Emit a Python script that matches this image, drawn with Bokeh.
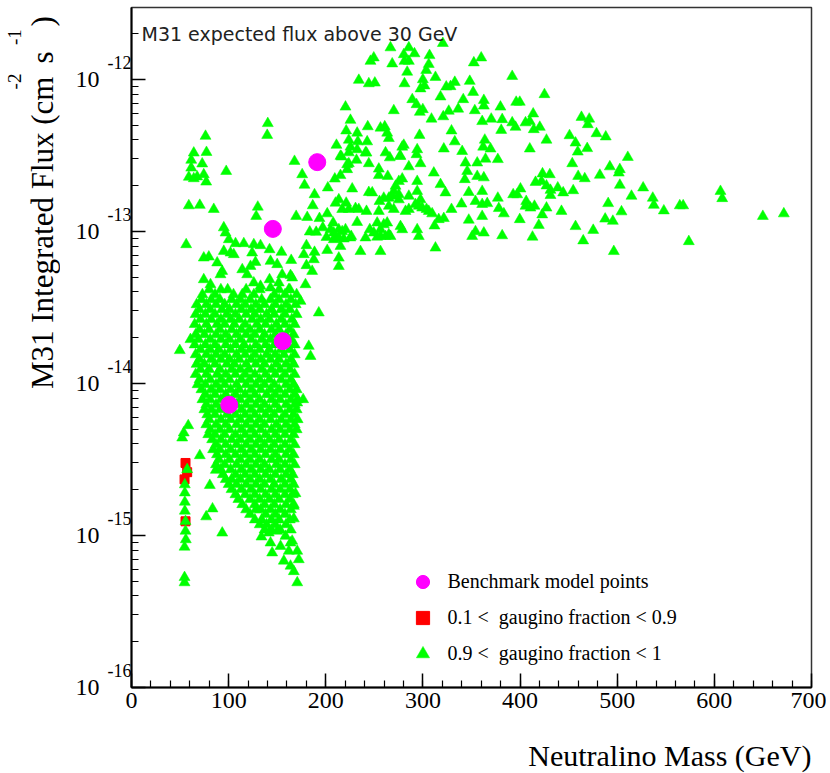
from math import pi
from bokeh.plotting import figure
from bokeh.layouts import row, column
from bokeh.models import (Label, FixedTicker, Legend, LegendItem, LogAxis, Range1d,
                          CustomJSTickFormatter)
from bokeh.embed import file_html
from bokeh.resources import INLINE

SERIF = "Liberation Serif"

# ---------------- data ----------------
x_ticks = [0, 100, 200, 300, 400, 500, 600, 700]
x_minor_ticks = list(range(0, 701, 20))
y_ticks = [1e-16, 1e-15, 1e-14, 1e-13, 1e-12]
y_tick_base = "10"
y_tick_exponents = ["-16", "-15", "-14", "-13", "-12"]
y_top = 2.977e-12

x_title = "Neutralino Mass (GeV)"
y_title_parts = ["M31 Integrated Flux (cm", "-2", "s", "-1", ")"]
caption = "M31 expected flux above 30 GeV"
legend_labels = ["Benchmark model points",
                 "0.1 <  gaugino fraction < 0.9",
                 "0.9 <  gaugino fraction < 1"]

# Benchmark model points (magenta)
benchmark_mass = [100.6, 145.5, 155.7, 191.2]
benchmark_flux = [7.24e-15, 1.04e-13, 1.90e-14, 2.86e-13]

# 0.1 < gaugino fraction < 0.9 (red squares)
mixed_mass = [55.6, 57.3, 54.6, 55.6]
mixed_flux = [3.0e-15, 2.61e-15, 2.34e-15, 1.24e-15]

# 0.9 < gaugino fraction < 1 (green triangles), read region by region
low_mass_sparse = [
    (76.2, 4.24e-13), (140.3, 5.14e-13), (139.7, 4.30e-13), (64.1, 3.29e-13), (77.2, 3.32e-13),
    (61.5, 2.95e-13), (72.8, 2.79e-13), (61.5, 2.62e-13), (97.5, 2.49e-13), (74.4, 2.37e-13),
    (59.0, 2.28e-13), (64.1, 2.23e-13), (76.9, 2.12e-13), (67.6, 2.29e-13), (59.0, 1.48e-13),
    (70.3, 1.49e-13), (84.7, 1.40e-13), (130.0, 1.45e-13), (128.4, 1.26e-13), (167.8, 2.90e-13),
    (175.7, 2.37e-13), (178.1, 2.02e-13), (188.4, 1.75e-13), (202.1, 1.94e-13), (186.6, 1.48e-13),
    (169.5, 1.26e-13), (180.9, 1.24e-13), (193.5, 1.22e-13), (201.5, 1.31e-13), (95.0, 1.06e-13),
    (96.8, 9.8e-14), (100.2, 8.86e-14), (107.1, 8.34e-14), (115.6, 8.34e-14), (56.3, 8.21e-14),
    (125.9, 8.21e-14), (132.8, 8.09e-14), (142.1, 7.61e-14), (154.4, 7.31e-14), (150.0, 6.07e-14),
    (143.1, 6.38e-14), (164.4, 6.47e-14), (180.1, 8.09e-14), (183.5, 9.95e-14), (190.1, 9.9e-14),
    (196.9, 1.06e-13), (200.7, 9.17e-14), (177.4, 7.06e-14), (188.4, 7.31e-14), (201.5, 7.53e-14),
    (180.1, 5.98e-14), (187.7, 6.54e-14), (74.4, 6.71e-14), (79.6, 6.81e-14), (88.2, 6.23e-14),
    (95.0, 7.42e-14), (101.9, 7.24e-14), (105.3, 7.06e-14), (124.2, 7.24e-14), (127.6, 6.28e-14),
    (122.5, 5.91e-14), (163.7, 5.14e-14), (186.0, 5.48e-14), (179.1, 4.48e-14), (174.0, 3.48e-14),
    (192.8, 2.92e-14), (74.4, 4.83e-14), (81.3, 4.48e-14), (91.6, 5.21e-14), (114.0, 5.62e-14),
    (119.1, 5.21e-14), (125.9, 4.60e-14), (142.1, 4.83e-14), (151.6, 4.60e-14), (161.9, 4.15e-14),
    (132.8, 4.37e-14), (143.1, 4.26e-14), (93.4, 5.48e-14), (155.1, 5.21e-14), (165.4, 4.96e-14),
]

mid_mass_arm = [
    (266.6, 1.62e-12), (285.5, 1.62e-12), (280.3, 1.46e-12), (291.3, 1.48e-12), (281.0, 1.32e-12),
    (285.5, 1.32e-12), (306.8, 1.44e-12), (320.5, 1.73e-12), (246.0, 1.32e-12), (249.4, 1.39e-12),
    (268.4, 1.27e-12), (306.0, 1.26e-12), (303.4, 1.15e-12), (283.8, 1.12e-12), (352.4, 1.29e-12),
    (234.0, 9.9e-13), (244.3, 9.4e-13), (250.5, 9.5e-13), (281.0, 9.4e-13), (299.9, 1.0e-12),
    (312.9, 1.035e-12), (297.5, 8.7e-13), (301.6, 9.1e-13), (324.0, 8.95e-13), (328.4, 9.0e-13),
    (332.8, 9.6e-13), (348.2, 9.75e-13), (351.7, 8.25e-13), (318.1, 7.7e-13), (341.5, 7.39e-13),
    (289.0, 7.39e-13), (293.4, 6.85e-13), (299.9, 6.35e-13), (296.8, 6.1e-13), (270.0, 6.25e-13),
    (308.8, 5.5e-13), (320.9, 5.7e-13), (326.6, 6.2e-13), (336.3, 6.4e-13), (353.4, 6.25e-13),
    (220.3, 6.6e-13), (225.4, 5.4e-13), (243.2, 4.9e-13), (256.3, 4.8e-13), (260.7, 4.9e-13),
    (263.2, 4.45e-13), (264.9, 4.1e-13), (296.5, 4.3e-13), (329.4, 4.6e-13), (332.8, 3.9e-13),
    (221.0, 4.6e-13), (223.7, 4.0e-13), (232.3, 4.45e-13), (233.0, 3.9e-13), (242.6, 3.9e-13),
    (211.0, 3.7e-13), (216.2, 3.1e-13), (223.7, 3.3e-13), (232.3, 3.46e-13), (225.4, 3.6e-13),
    (240.9, 3.3e-13), (244.3, 2.8e-13), (231.6, 2.95e-13), (223.7, 2.8e-13), (222.0, 2.56e-13),
    (261.5, 3.3e-13), (265.9, 3.06e-13), (278.7, 3.6e-13), (280.3, 3.7e-13), (276.2, 3.13e-13),
    (294.1, 3.46e-13), (293.4, 3.21e-13), (297.5, 2.8e-13), (321.5, 3.5e-13), (340.4, 3.37e-13),
    (343.8, 2.83e-13), (355.9, 2.83e-13), (209.3, 2.22e-13), (215.1, 2.34e-13), (227.2, 1.91e-13),
    (254.6, 2.58e-13), (254.6, 2.34e-13), (263.8, 2.31e-13), (285.5, 2.67e-13), (294.1, 2.14e-13),
    (311.2, 2.43e-13), (275.2, 2.14e-13), (278.7, 2.22e-13), (271.8, 1.99e-13), (270.0, 1.84e-13),
    (275.2, 1.75e-13), (294.1, 1.84e-13), (318.1, 2.04e-13), (323.2, 1.8e-13), (244.3, 1.81e-13),
    (247.8, 1.8e-13), (255.3, 1.58e-13), (259.7, 1.66e-13), (264.9, 1.66e-13), (268.4, 1.71e-13),
    (275.2, 1.62e-13), (285.5, 1.71e-13), (292.3, 1.51e-13), (297.5, 1.62e-13), (299.2, 1.43e-13),
    (306.0, 1.36e-13), (309.5, 1.31e-13), (316.3, 1.2e-13), (321.5, 1.22e-13), (329.4, 1.4e-13),
    (339.7, 1.52e-13), (347.2, 1.81e-13), (354.1, 1.58e-13), (210.0, 1.54e-13), (213.4, 1.62e-13),
    (221.0, 1.54e-13), (223.7, 1.4e-13), (216.9, 1.4e-13), (230.6, 1.42e-13), (234.0, 1.4e-13),
    (241.9, 1.36e-13), (254.6, 1.36e-13), (264.9, 1.47e-13), (270.0, 1.4e-13), (282.1, 1.36e-13),
    (285.5, 1.4e-13), (295.7, 1.47e-13), (303.7, 1.4e-13), (204.9, 1.03e-13), (207.6, 1.14e-13),
    (208.2, 9.8e-14), (210.0, 9.3e-14), (216.9, 1.0e-13), (220.3, 1.03e-13), (226.2, 9.3e-14),
    (232.3, 1.15e-13), (245.3, 1.03e-13), (252.9, 1.14e-13), (256.3, 1.03e-13), (263.2, 1.14e-13),
    (261.5, 9.3e-14), (264.9, 9.55e-14), (276.9, 1.08e-13), (278.7, 1.03e-13), (294.1, 1.03e-13),
    (295.7, 9.3e-14), (311.9, 1.09e-13), (347.2, 1.19e-13), (354.1, 1.0e-13), (350.7, 9.3e-14),
    (208.2, 8.86e-14), (213.4, 9.1e-14), (218.5, 8.95e-14), (225.4, 9.1e-14), (240.9, 9.1e-14),
    (249.4, 9.8e-14), (252.9, 9.2e-14), (256.3, 9.3e-14), (266.6, 9.3e-14), (235.7, 7.4e-14),
    (256.3, 7.4e-14), (312.9, 7.8e-14), (215.1, 8.0e-14), (213.4, 6.7e-14), (213.4, 5.9e-14),
    (215.1, 3.13e-13), (241.9, 3.29e-13), (276.9, 3.13e-13), (222.0, 2.76e-13), (345.6, 2.49e-13),
    (343.1, 2.2e-13), (355.9, 2.31e-13), (259.7, 1.11e-13), (213.4, 1.03e-13),
]

high_mass_arm = [
    (391.9, 1.05e-12), (425.1, 7.97e-13), (362.7, 7.3e-13), (362.7, 6.7e-13), (379.8, 6.6e-13),
    (396.0, 7.1e-13), (399.7, 7.1e-13), (361.0, 5.3e-13), (370.3, 5.5e-13), (381.6, 5.46e-13),
    (391.9, 5.2e-13), (395.3, 4.86e-13), (405.6, 5.2e-13), (410.0, 5.3e-13), (413.5, 5.95e-13),
    (414.1, 4.69e-13), (420.3, 4.86e-13), (380.6, 4.64e-13), (363.7, 4.0e-13), (362.0, 3.6e-13),
    (369.6, 3.5e-13), (377.1, 2.98e-13), (364.4, 3.0e-13), (427.2, 4.0e-13), (410.0, 3.5e-13),
    (463.2, 5.65e-13), (471.2, 5.5e-13), (469.7, 5.06e-13), (450.9, 4.28e-13), (457.1, 3.83e-13),
    (459.4, 3.34e-13), (469.1, 3.52e-13), (478.7, 4.41e-13), (488.2, 4.2e-13), (510.9, 3.08e-13),
    (453.7, 2.8e-13), (492.4, 2.67e-13), (502.7, 2.56e-13), (501.6, 2.43e-13), (482.1, 2.35e-13),
    (459.8, 2.31e-13), (466.6, 2.23e-13), (502.7, 2.02e-13), (526.7, 1.94e-13), (514.7, 1.71e-13),
    (536.6, 1.66e-13), (537.7, 1.49e-13), (548.0, 1.37e-13), (490.7, 1.53e-13), (504.4, 1.35e-13),
    (487.6, 1.21e-13), (495.5, 1.17e-13), (454.7, 1.86e-13), (423.1, 2.4e-13), (430.6, 2.37e-13),
    (415.9, 2.11e-13), (422.1, 2.14e-13), (427.2, 2.0e-13), (431.3, 1.87e-13), (438.8, 1.94e-13),
    (444.4, 1.8e-13), (431.3, 1.73e-13), (400.4, 1.91e-13), (392.9, 1.75e-13), (397.0, 1.75e-13),
    (406.3, 1.58e-13), (405.6, 1.47e-13), (410.7, 1.43e-13), (414.8, 1.47e-13), (427.2, 1.43e-13),
    (422.8, 1.29e-13), (442.6, 1.36e-13), (399.7, 1.2e-13), (419.3, 1.1e-13), (412.8, 9.2e-14),
    (381.6, 9.4e-14), (377.1, 1.66e-13), (378.1, 1.42e-13), (383.3, 1.31e-13), (361.0, 1.26e-13),
    (457.1, 1.08e-13), (475.3, 1.02e-13), (465.0, 8.7e-14), (496.5, 7.4e-14), (361.0, 1.51e-13),
    (361.0, 1.84e-13), (362.7, 9.8e-14), (360.0, 1.39e-12), (362.7, 2.26e-13), (366.2, 1.53e-13),
    (606.3, 1.84e-13), (608.1, 1.65e-13), (649.9, 1.26e-13), (671.5, 1.31e-13), (573.7, 8.6e-14),
    (564.4, 1.48e-13), (567.9, 1.48e-13),
]

low_mass_edges = [
    (49.7, 1.65e-14), (60.7, 1.95e-14), (58.4, 5.29e-15), (53.8, 4.74e-15), (52.2, 4.39e-15),
    (57.3, 2.72e-15), (54.9, 2.16e-15), (54.9, 1.91e-15), (54.9, 1.66e-15), (54.9, 1.45e-15),
    (55.6, 1.24e-15), (55.6, 1.07e-15), (55.9, 9.4e-16), (54.6, 8.4e-16), (54.6, 5.3e-16),
    (54.6, 4.9e-16), (70.3, 3.36e-15), (80.6, 2.14e-15), (83.4, 1.5e-15), (86.8, 2.69e-15),
    (93.4, 1.04e-15), (76.9, 1.33e-15), (182.5, 1.76e-14), (184.3, 1.51e-14), (176.7, 7.85e-15),
    (170.6, 7.46e-15), (156.8, 6.8e-16), (161.9, 7.9e-16), (170.6, 7.9e-16), (172.2, 6.95e-16),
    (163.7, 6.3e-16), (167.1, 5.8e-16), (170.6, 4.9e-16), (158.5, 9.9e-16), (165.4, 9.2e-16),
    (143.1, 8.95e-16), (144.8, 7.7e-16), (153.4, 8.5e-16), (133.8, 9.8e-16), (141.3, 1.04e-15),
    (150.0, 1.07e-15), (167.1, 1.29e-15), (167.1, 1.56e-15), (168.8, 1.89e-15), (163.7, 8.95e-16),
]

# dense core of the cloud: one flux level per row, with the masses seen on that row
core_flux_rows = [
    4.15e-14, 3.85e-14, 3.57e-14, 3.31e-14, 3.07e-14, 2.85e-14, 2.64e-14, 2.45e-14, 2.26e-14, 2.10e-14,
    1.95e-14, 1.80e-14, 1.67e-14, 1.55e-14, 1.44e-14, 1.34e-14, 1.24e-14, 1.15e-14, 1.06e-14, 9.85e-15,
    9.13e-15, 8.47e-15, 7.85e-15, 7.27e-15, 6.74e-15, 6.25e-15, 5.80e-15, 5.37e-15, 4.98e-15, 4.62e-15,
    4.28e-15, 3.97e-15, 3.68e-15, 3.41e-15, 3.16e-15, 2.93e-15, 2.72e-15, 2.52e-15, 2.34e-15, 2.17e-15,
    2.01e-15, 1.86e-15, 1.73e-15, 1.60e-15, 1.48e-15, 1.38e-15, 1.27e-15, 1.18e-15, 1.09e-15,
]
core_mass_rows = [
    [80, 92, 99, 118, 132, 152, 163],
    [73, 86, 105, 114, 126, 147, 158, 170],
    [72, 82, 91, 103, 112, 122, 134, 143, 152, 164],
    [67, 77, 87, 96, 108, 117, 128, 137, 148, 159, 169],
    [70, 81, 93, 101, 113, 123, 132, 144, 154, 163],
    [66, 76, 86, 98, 107, 118, 127, 139, 147, 158, 170],
    [71, 82, 92, 102, 111, 124, 133, 142, 154, 165],
    [65, 77, 88, 96, 106, 117, 129, 138, 149, 158, 168],
    [70, 80, 91, 103, 113, 122, 132, 144, 152, 163],
    [66, 75, 87, 97, 108, 118, 127, 137, 148, 159, 167],
    [69, 81, 92, 101, 112, 123, 134, 143, 153, 164],
    [65, 76, 86, 97, 107, 116, 128, 138, 147, 158, 168],
    [71, 81, 90, 102, 113, 122, 132, 142, 154, 163],
    [66, 77, 87, 96, 108, 117, 127, 139, 148, 157, 168],
    [70, 82, 92, 101, 111, 123, 133, 143, 152, 164],
    [67, 75, 86, 98, 106, 118, 128, 137, 149, 159, 167],
    [71, 80, 91, 103, 112, 121, 134, 144, 153, 163],
    [66, 77, 88, 97, 107, 117, 127, 138, 148, 158, 168],
    [70, 81, 92, 101, 113, 122, 132, 142, 154, 164],
    [68, 76, 87, 96, 108, 118, 128, 137, 147, 159, 167],
    [72, 82, 91, 102, 111, 123, 133, 143, 152, 163, 170],
    [76, 86, 97, 107, 117, 127, 139, 148, 158, 168],
    [73, 81, 92, 103, 112, 122, 132, 144, 153, 164, 171],
    [77, 87, 96, 108, 118, 128, 137, 148, 159, 168],
    [75, 82, 91, 101, 113, 123, 133, 142, 152, 163, 170],
    [78, 86, 98, 107, 117, 127, 138, 147, 158, 167],
    [80, 92, 102, 112, 122, 132, 143, 154, 164, 171],
    [77, 87, 97, 108, 118, 128, 137, 149, 159, 168],
    [81, 91, 101, 113, 123, 133, 144, 153, 163, 170],
    [79, 86, 96, 107, 117, 127, 138, 148, 158, 167],
    [83, 92, 103, 112, 122, 132, 142, 152, 164],
    [87, 97, 108, 118, 128, 137, 147, 158, 168],
    [84, 91, 102, 113, 123, 133, 143, 153, 163],
    [88, 97, 107, 117, 127, 138, 148, 159, 167],
    [90, 101, 112, 122, 132, 144, 152, 164],
    [87, 96, 108, 118, 128, 137, 149, 158, 168],
    [92, 102, 113, 123, 133, 142, 153, 163],
    [94, 107, 117, 127, 138, 148, 159, 166],
    [97, 103, 112, 122, 132, 143, 154, 164],
    [100, 108, 118, 128, 137, 147, 158, 167],
    [103, 113, 123, 133, 144, 153, 163],
    [107, 117, 127, 138, 148, 158, 166],
    [110, 122, 132, 142, 152, 163],
    [114, 127, 137, 147, 159, 167],
    [118, 128, 133, 143, 153, 164],
    [122, 138, 148, 158],
    [127, 134, 144, 152, 163],
    [132, 139, 148, 159],
    [137, 144, 153, 164],
]

# ---------------- assemble ----------------
green_mass, green_flux = [], []
for group in (low_mass_sparse, mid_mass_arm, high_mass_arm, low_mass_edges):
    for m, f in group:
        green_mass.append(m)
        green_flux.append(f)
for f, row_masses in zip(core_flux_rows, core_mass_rows):
    for m in row_masses:
        green_mass.append(m)
        green_flux.append(f)

y_minor_ticks = [k * d for d in y_ticks for k in range(2, 10) if k * d <= y_top]
exp_label_lift = 1.29   # exponents sit above their decade, as superscripts

# page geometry (pixels)
PAGE_W, PAGE_H = 826, 773
LEFT_W = 60          # strip holding the rotated y title
BOTTOM_H = 38        # strip holding the x title
MAIN_W, MAIN_H = PAGE_W - LEFT_W, PAGE_H - BOTTOM_H

p = figure(width=MAIN_W, height=MAIN_H, x_range=(0, 700), y_range=(1e-16, y_top),
           y_axis_type="log", output_backend="svg", toolbar_location=None,
           min_border_left=71, min_border_right=15, min_border_top=7, min_border_bottom=48)
p.background_fill_color = "white"
p.border_fill_color = "white"
p.outline_line_color = "#333333"
p.outline_line_width = 1.5
p.xgrid.grid_line_color = None
p.ygrid.grid_line_color = None

p.xaxis.ticker = FixedTicker(ticks=x_ticks, minor_ticks=x_minor_ticks)
p.yaxis.ticker = FixedTicker(ticks=y_ticks, minor_ticks=y_minor_ticks)
for ax in (p.xaxis[0], p.yaxis[0]):
    ax.major_tick_in = 14
    ax.major_tick_out = 0
    ax.minor_tick_in = 7
    ax.minor_tick_out = 0
    ax.axis_line_color = "black"
    ax.axis_line_width = 2
    ax.major_tick_line_color = "black"
    ax.major_tick_line_width = 1.5
    ax.minor_tick_line_color = "black"
    ax.minor_tick_line_width = 1.2

p.xaxis.major_label_text_font = SERIF
p.xaxis.major_label_text_font_size = "24px"
p.xaxis.major_label_text_color = "black"
p.xaxis.major_label_standoff = 5

# innermost y axis: only the tick marks
p.yaxis.formatter = CustomJSTickFormatter(code="return ''")
p.yaxis.major_label_standoff = 0

# exponents of the decade labels (superscripts)
exp_axis = LogAxis(ticker=FixedTicker(ticks=[t * exp_label_lift for t in y_ticks]),
                   formatter=CustomJSTickFormatter(args=dict(exps=y_tick_exponents),
                                                   code="return exps[index]"),
                   axis_line_color=None, major_tick_line_color=None,
                   minor_tick_line_color=None, major_tick_in=0, major_tick_out=0,
                   major_label_standoff=0, major_label_text_font=SERIF,
                   major_label_text_font_size="18px", major_label_text_color="black")
p.add_layout(exp_axis, "left")

# base "10" of the decade labels
base_axis = LogAxis(ticker=FixedTicker(ticks=y_ticks),
                    formatter=CustomJSTickFormatter(args=dict(base=y_tick_base),
                                                    code="return base"),
                    axis_line_color=None, major_tick_line_color=None,
                    minor_tick_line_color=None, major_tick_in=0, major_tick_out=0,
                    major_label_standoff=5, major_label_text_font=SERIF,
                    major_label_text_font_size="24px", major_label_text_color="black")
p.add_layout(base_axis, "left")

# markers
r_mixed = p.scatter(mixed_mass, mixed_flux, marker="square", size=9,
                    fill_color="#ff0000", line_color="#ff0000")
r_green = p.scatter(green_mass, green_flux, marker="triangle", size=11,
                    fill_color="#00ff00", line_color="#00ff00", line_width=0.5)
r_bench = p.scatter(benchmark_mass, benchmark_flux, marker="circle", size=17,
                    fill_color="#ff00ff", line_color="#ff00ff")

legend = Legend(items=[LegendItem(label=legend_labels[0], renderers=[r_bench]),
                       LegendItem(label=legend_labels[1], renderers=[r_mixed]),
                       LegendItem(label=legend_labels[2], renderers=[r_green])],
                location=(274.5, 17.5), glyph_width=33, glyph_height=33, spacing=3,
                padding=0, margin=0, border_line_color=None, background_fill_alpha=0,
                label_text_font=SERIF, label_text_font_size="20px", label_standoff=9,
                label_text_color="black")
p.add_layout(legend)

# in-frame caption
p.add_layout(Label(x=0, y=y_top, x_offset=10, y_offset=-26, text=caption,
                   text_align="left", text_baseline="alphabetic", text_font="DejaVu Sans",
                   text_font_size="19px", text_color="#222222"))


def text_strip(width, height, x_range, y_range):
    f = figure(width=width, height=height, x_range=x_range, y_range=y_range,
               output_backend="svg", toolbar_location=None, min_border=0,
               x_axis_location=None, y_axis_location=None)
    f.outline_line_color = None
    f.background_fill_color = "white"
    f.border_fill_color = "white"
    f.grid.visible = False
    return f


# left strip: y axis title (coordinates in page pixels, y downwards);
# each piece is centred on its point and rotated to read upwards
ytitle_fig = text_strip(LEFT_W, MAIN_H, Range1d(0, LEFT_W), Range1d(MAIN_H, 0))
ytitle_x = [42, 13.5, 42, 13.5, 42]
ytitle_y = [243.5, 80, 54, 32, 15]
ytitle_size = ["31px", "19px", "31px", "19px", "31px"]
for t, xx, yy, fs in zip(y_title_parts, ytitle_x, ytitle_y, ytitle_size):
    ytitle_fig.add_layout(Label(x=xx, y=yy, text=t, angle=pi / 2, text_align="center",
                                text_baseline="middle", text_font=SERIF,
                                text_font_size=fs, text_color="black"))

# bottom strip: x axis title, right-aligned with the frame's right edge
xtitle_fig = text_strip(PAGE_W, BOTTOM_H, Range1d(0, PAGE_W), Range1d(PAGE_H, MAIN_H))
xtitle_fig.add_layout(Label(x=811, y=755, text=x_title, text_align="right",
                            text_baseline="alphabetic", text_font=SERIF,
                            text_font_size="30px", text_color="black"))

layout = column(row(ytitle_fig, p, spacing=0), xtitle_fig, spacing=0)

open("out.html", "w").write(file_html(layout, INLINE))
